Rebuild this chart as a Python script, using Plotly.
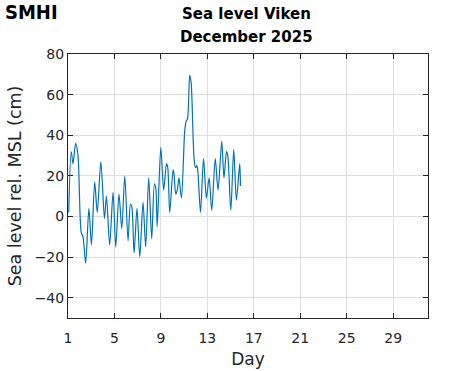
import plotly.graph_objects as go

days = [1.06, 1.28, 1.43, 1.66, 1.86, 2.14, 2.29, 2.52, 2.80, 3.02, 3.30, 3.52, 3.83, 4.14,
        4.31, 4.59, 4.88, 5.11, 5.39, 5.63, 5.89, 6.17, 6.38, 6.49, 6.69, 6.94, 7.18, 7.46,
        7.69, 7.95, 8.21, 8.44, 8.56, 8.68, 8.99, 9.24, 9.48, 9.59, 9.76, 10.05, 10.11,
        10.28, 10.41, 10.56, 10.77, 11.05, 11.18, 11.29, 11.48, 11.60, 11.85, 11.98, 12.09,
        12.17, 12.41, 12.67, 12.92, 13.15, 13.38, 13.68, 13.92, 14.24, 14.43, 14.65, 14.76,
        15.02, 15.27, 15.50, 15.79, 15.85]
level = [2, 32, 26, 36, 30, -8, -10, -23, 4, -14, 17, 2, 27, -1,
         10, -14, 12, -15, 11, -6, 20, -12, 6, 5, -18, 4, -20, 7,
         -15, 19, -11, 16, 14, -5, 34, 13, 26, 24, 2, 23, 22,
         11, 13, 19, 9, 42, 47, 48, 69.5, 66, 29, 24, 25,
         23, 2, 28.5, 9, 19, 3, 28.5, 13, 37, 19, 32, 30,
         3, 33, 8, 26, 15]

x_ticks = [1, 5, 9, 13, 17, 21, 25, 29]
y_ticks = [-40, -20, 0, 20, 40, 60, 80]
title_lines = ["Sea level Viken", "December 2025"]

fig = go.Figure()
fig.add_trace(go.Scatter(x=days, y=level, mode="lines",
                         line=dict(color="#0072BD", width=1.2, shape="spline", smoothing=0.8)))

axis_common = dict(showline=True, linecolor="#262626", linewidth=1, mirror="ticks",
                   ticks="inside", ticklen=5, tickcolor="#262626", automargin=False,
                   showgrid=True, gridcolor="#dfdfdf", gridwidth=1, zeroline=False,
                   tickfont=dict(family="DejaVu Sans", size=14, color="#262626"))

PW, PH = 360, 264  # plot area size in px

annotations = [
    dict(text="<b>%s</b>" % title_lines[0], xref="paper", yref="paper",
         x=0.497, y=1 + (54 - 14) / PH, xanchor="center", yanchor="middle", showarrow=False,
         font=dict(family="DejaVu Sans", size=15, color="black")),
    dict(text="<b>%s</b>" % title_lines[1], xref="paper", yref="paper",
         x=0.497, y=1 + (54 - 37) / PH, xanchor="center", yanchor="middle", showarrow=False,
         font=dict(family="DejaVu Sans", size=15, color="black")),
    dict(text="<b>SMHI</b>", xref="paper", yref="paper",
         x=(3 - 68) / PW, y=1 + (54 - 11.5) / PH, xanchor="left", yanchor="middle",
         showarrow=False,
         font=dict(family="DejaVu Sans Condensed, Liberation Sans Narrow, sans-serif",
                   size=20, color="black")),
]

fig.update_layout(
    width=471, height=371,
    margin=dict(l=68, r=43, t=54, b=53),
    paper_bgcolor="white", plot_bgcolor="white",
    showlegend=False,
    font=dict(family="DejaVu Sans", color="#262626"),
    xaxis=dict(range=[1, 32], tickvals=x_ticks, ticklabelstandoff=7,
               title=dict(text="Day", font=dict(size=17, color="#262626"), standoff=8),
               **axis_common),
    yaxis=dict(range=[-50, 80], tickvals=y_ticks, tickformat="d",
               title=dict(text="Sea level rel. MSL (cm)", font=dict(size=17.5, color="#262626"), standoff=8),
               **axis_common),
    annotations=annotations,
)

fig.write_html("out.html", config={"displayModeBar": False},
               post_script="document.body.style.margin='0';")
